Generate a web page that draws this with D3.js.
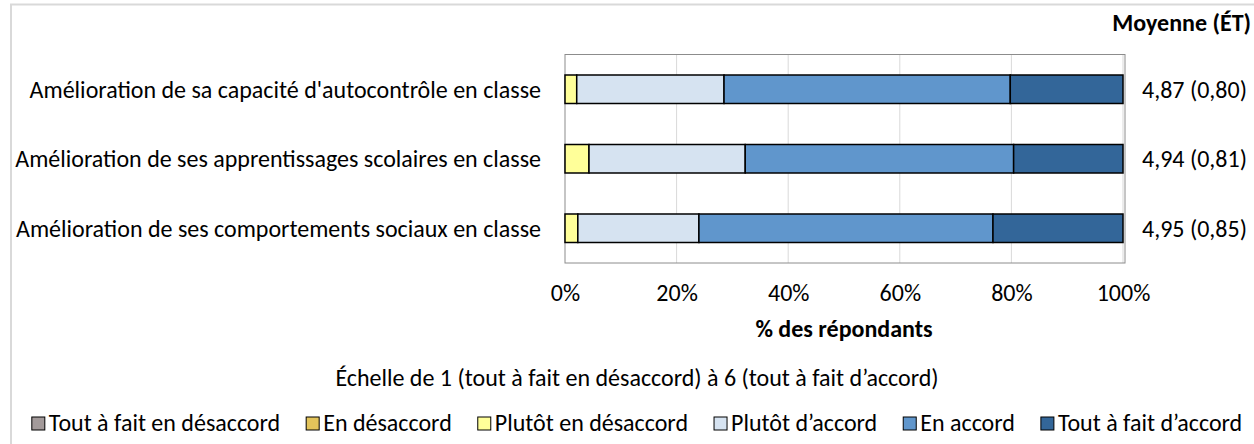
<!DOCTYPE html>
<html>
<head>
<meta charset="utf-8">
<script src="https://cdn.jsdelivr.net/npm/d3@7/dist/d3.min.js"></script>
<style>
  body { margin: 0; background: #fff; }
  svg { display: block; }
  text { font-family: Carlito, Calibri, Lato, sans-serif; fill: #000; }
</style>
</head>
<body>
<svg id="chart" width="1254" height="444"></svg>
<script>
// categories, top to bottom
const categories = [
  "Amélioration de sa capacité d'autocontrôle en classe",
  "Amélioration de ses apprentissages scolaires en classe",
  "Amélioration de ses comportements sociaux en classe"
];

// % of respondents per answer level (1 to 6)
const toutDesaccord   = [0, 0, 0];
const enDesaccord     = [0, 0, 0];
const plutotDesaccord = [2.1, 4.3, 2.3];
const plutotAccord    = [26.4, 28.0, 21.7];
const enAccord        = [51.3, 48.1, 52.7];
const toutAccord      = [20.2, 19.6, 23.3];

const seriesNames = [
  "Tout à fait en désaccord", "En désaccord", "Plutôt en désaccord",
  "Plutôt d’accord", "En accord", "Tout à fait d’accord"
];
const seriesColors = ["#A39A9A", "#E3C45B", "#FFFF99", "#D6E3F1", "#6096CC", "#336699"];

const moyennes = ["4,87 (0,80)", "4,94 (0,81)", "4,95 (0,85)"];
const tickValues = [0, 20, 40, 60, 80, 100];

const svg = d3.select("#chart");
const W = 1254, H = 444;
const fontSize = 24;

// chart frame (cut on right and bottom)
svg.append("rect")
  .attr("x", 11).attr("y", 4.5)
  .attr("width", W + 10).attr("height", H + 10)
  .attr("fill", "#fff")
  .attr("stroke", "#D9D9D9")
  .attr("stroke-width", 2);

const x = d3.scaleLinear().domain([0, 100]).range([565, 1123]);
const y = d3.scaleBand().domain(categories).range([54.5, 263])
  .paddingInner(0.59).paddingOuter(0.295);

// rows for stacking
const keys = seriesNames;
const cols = [toutDesaccord, enDesaccord, plutotDesaccord, plutotAccord, enAccord, toutAccord];
const rows = categories.map((c, i) => {
  const r = { cat: c };
  keys.forEach((k, j) => r[k] = cols[j][i]);
  return r;
});
const stacked = d3.stack().keys(keys)(rows);
const color = d3.scaleOrdinal().domain(keys).range(seriesColors);

// gridlines
svg.append("g")
  .selectAll("line")
  .data(tickValues.slice(1))
  .enter().append("line")
  .attr("x1", d => x(d)).attr("x2", d => x(d))
  .attr("y1", y.range()[0]).attr("y2", y.range()[1])
  .attr("stroke", "#D9D9D9")
  .attr("stroke-width", 1);

// plot border
svg.append("rect")
  .attr("x", x(0)).attr("y", y.range()[0])
  .attr("width", x(100) - x(0) + 2).attr("height", y.range()[1] - y.range()[0])
  .attr("fill", "none")
  .attr("stroke", "#8C8C8C")
  .attr("stroke-width", 1);

// bars
svg.append("g")
  .selectAll("g")
  .data(stacked)
  .enter().append("g")
  .attr("fill", d => color(d.key))
  .selectAll("rect")
  .data(d => d.filter(p => p[1] - p[0] > 0))
  .enter().append("rect")
  .attr("x", d => x(d[0]))
  .attr("y", d => y(d.data.cat))
  .attr("width", d => x(d[1]) - x(d[0]))
  .attr("height", y.bandwidth())
  .attr("stroke", "#000")
  .attr("stroke-width", 1.5);

// category labels
svg.append("g")
  .selectAll("text")
  .data(categories)
  .enter().append("text")
  .attr("x", 541)
  .attr("y", d => y(d) + y.bandwidth() / 2)
  .attr("dy", "0.35em")
  .attr("text-anchor", "end")
  .style("font-size", fontSize + "px")
  .text(d => d);

// means
svg.append("g")
  .selectAll("text")
  .data(moyennes)
  .enter().append("text")
  .attr("x", 1142)
  .attr("y", (d, i) => y(categories[i]) + y.bandwidth() / 2)
  .attr("dy", "0.35em")
  .style("font-size", fontSize + "px")
  .text(d => d);

svg.append("text")
  .attr("x", 1251).attr("y", 31)
  .attr("text-anchor", "end")
  .style("font-size", fontSize + "px")
  .style("font-weight", "bold")
  .text("Moyenne (ÉT)");

// x axis labels
const xAxis = d3.axisBottom(x)
  .tickValues(tickValues)
  .tickFormat(d => d + "%")
  .tickSize(0)
  .tickPadding(0);
const gx = svg.append("g").attr("transform", "translate(0,284)").call(xAxis);
gx.select(".domain").remove();
gx.selectAll("text")
  .attr("dy", "0.71em")
  .style("font-family", "Carlito, Calibri, Lato, sans-serif")
  .style("font-size", fontSize + "px")
  .attr("fill", "#000");

svg.append("text")
  .attr("x", (x(0) + x(100)) / 2).attr("y", 337)
  .attr("text-anchor", "middle")
  .style("font-size", fontSize + "px")
  .style("font-weight", "bold")
  .text("% des répondants");

svg.append("text")
  .attr("x", 637).attr("y", 386)
  .attr("text-anchor", "middle")
  .style("font-size", fontSize + "px")
  .text("Échelle de 1 (tout à fait en désaccord) à 6 (tout à fait d’accord)");

// legend
const legend = svg.append("g");
const items = legend.selectAll("g")
  .data(seriesNames)
  .enter().append("g");
items.append("rect")
  .attr("width", 13).attr("height", 13)
  .attr("y", -14)
  .attr("fill", d => color(d))
  .attr("stroke", "#000")
  .attr("stroke-width", 1);
items.append("text")
  .attr("x", 17)
  .style("font-size", fontSize + "px")
  .text(d => d);

const gap = 26;
const widths = [];
items.each(function() { widths.push(this.getBBox().width); });
const total = d3.sum(widths) + gap * (widths.length - 1);
let cursor = 637 - total / 2;
items.attr("transform", (d, i) => {
  const tx = cursor;
  cursor += widths[i] + gap;
  return `translate(${tx},431)`;
});
</script>
</body>
</html>
